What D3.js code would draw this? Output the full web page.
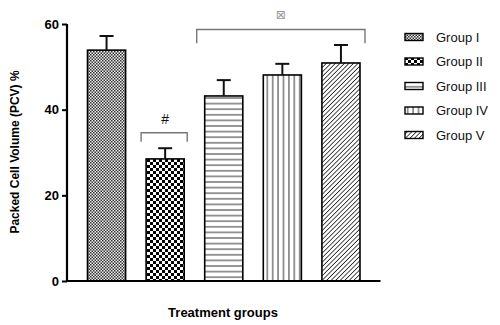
<!DOCTYPE html>
<html><head><meta charset="utf-8">
<script src="https://cdn.jsdelivr.net/npm/d3@7"></script>
<style>body{margin:0;background:#fff}svg{display:block;font-family:"Liberation Sans",Arial,sans-serif}</style>
</head><body><svg id="c" width="500" height="325"></svg>
<script>
const groups = ["Group I","Group II","Group III","Group IV","Group V"];
const means = [53.9, 28.5, 43.2, 48.1, 50.9];
const sems = [3.3, 2.5, 3.7, 2.6, 4.2];
const yTicks = [0, 20, 40, 60];
const patterns = ["pFine","pChecker","pHoriz","pVert","pDiag"];

const svg = d3.select("#c");
const x = d3.scaleBand().domain(groups).range([67, 380.5]).paddingInner(0.35).paddingOuter(0.35);
const y = d3.scaleLinear().domain([0, 60]).range([281, 24]);

const defs = svg.append("defs");
// fine checker
let p = defs.append("pattern").attr("id","pFine").attr("patternUnits","userSpaceOnUse").attr("width",3).attr("height",3);
p.append("rect").attr("width",3).attr("height",3).attr("fill","#eee");
p.append("rect").attr("width",1.5).attr("height",1.5).attr("fill","#333");
p.append("rect").attr("x",1.5).attr("y",1.5).attr("width",1.5).attr("height",1.5).attr("fill","#333");
// coarse checker
p = defs.append("pattern").attr("id","pChecker").attr("patternUnits","userSpaceOnUse").attr("width",6).attr("height",6);
p.append("rect").attr("width",6).attr("height",6).attr("fill","#fff");
p.append("rect").attr("width",3).attr("height",3).attr("fill","#000");
p.append("rect").attr("x",3).attr("y",3).attr("width",3).attr("height",3).attr("fill","#000");
// horizontal
p = defs.append("pattern").attr("id","pHoriz").attr("patternUnits","userSpaceOnUse").attr("width",6).attr("height",5.6);
p.append("rect").attr("width",6).attr("height",5.6).attr("fill","#fff");
p.append("line").attr("x1",0).attr("x2",6).attr("y1",2.8).attr("y2",2.8).attr("stroke","#555").attr("stroke-width",1.2);
// vertical
p = defs.append("pattern").attr("id","pVert").attr("patternUnits","userSpaceOnUse").attr("width",5.4).attr("height",6);
p.append("rect").attr("width",5.4).attr("height",6).attr("fill","#fff");
p.append("line").attr("y1",0).attr("y2",6).attr("x1",2.7).attr("x2",2.7).attr("stroke","#555").attr("stroke-width",1.2);
// diagonal
p = defs.append("pattern").attr("id","pDiag").attr("patternUnits","userSpaceOnUse").attr("width",3.2).attr("height",3.2).attr("patternTransform","rotate(45)");
p.append("rect").attr("width",3.2).attr("height",3.2).attr("fill","#fff");
p.append("line").attr("x1",0).attr("x2",0).attr("y1",0).attr("y2",3.2).attr("stroke","#222").attr("stroke-width",1.6);

// bars
svg.selectAll("rect.bar").data(groups).join("rect").attr("class","bar")
  .attr("x", d => x(d)).attr("width", x.bandwidth())
  .attr("y", (d,i) => y(means[i])).attr("height", (d,i) => y(0) - y(means[i]))
  .attr("fill", (d,i) => `url(#${patterns[i]})`).attr("stroke","#000").attr("stroke-width",1.6);

// error bars
const eb = svg.append("g").attr("stroke","#111").attr("stroke-width",2);
groups.forEach((g,i) => {
  const cx = x(g) + x.bandwidth()/2;
  eb.append("line").attr("x1",cx).attr("x2",cx).attr("y1",y(means[i])).attr("y2",y(means[i]+sems[i]));
  eb.append("line").attr("x1",cx-7).attr("x2",cx+7).attr("y1",y(means[i]+sems[i])).attr("y2",y(means[i]+sems[i]));
});

// axes
const yAxis = svg.append("g").attr("transform","translate(67,0)")
  .call(d3.axisLeft(y).tickValues(yTicks).tickSize(5).tickPadding(3));
yAxis.select(".domain").attr("stroke","#000").attr("stroke-width",2.2).attr("d","M0,24V281");
yAxis.selectAll(".tick line").attr("stroke","#000").attr("stroke-width",2);
yAxis.selectAll(".tick text").attr("font-size",13).attr("font-weight","bold").attr("fill","#000")
  .attr("font-family","Liberation Sans, Arial, sans-serif");
svg.append("line").attr("x1",66).attr("x2",380.5).attr("y1",y(0)).attr("y2",y(0)).attr("stroke","#000").attr("stroke-width",2.2);

// brackets
const br = svg.append("g").attr("fill","none").attr("stroke","#777").attr("stroke-width",1.4);
const x2 = x("Group II");
br.append("path").attr("d",`M${x2-5},${y(32.5)}V${y(34.6)}H${x2+x.bandwidth()+3}V${y(32.5)}`);
svg.append("text").attr("x",x2+x.bandwidth()/2).attr("y",y(36.6)).attr("text-anchor","middle")
  .attr("font-size",14).attr("fill","#111").text("#");
const x3 = x("Group III"), x5 = x("Group V")+x.bandwidth();
br.append("path").attr("d",`M${x3-8},${y(55.5)}V${y(58.7)}H${x5+5}V${y(55.5)}`);
svg.append("text").attr("x",(x3-8+x5+5)/2).attr("y",y(61.2)).attr("text-anchor","middle")
  .attr("font-size",12).attr("fill","#999").attr("font-family","DejaVu Sans").attr("transform","").text("⊠");

// axis titles
svg.append("text").attr("transform","translate(19,152) rotate(-90)").attr("text-anchor","middle")
  .attr("font-size",12).attr("font-weight","bold").text("Packed Cell Volume (PCV) %");
svg.append("text").attr("x",223).attr("y",317).attr("text-anchor","middle")
  .attr("font-size",13).attr("font-weight","bold").text("Treatment groups");

// legend
const lg = svg.append("g");
groups.forEach((g,i) => {
  const yy = 37 + i*24.5;
  lg.append("rect").attr("x",405).attr("y",yy-3.5).attr("width",18).attr("height",7)
    .attr("fill",`url(#${patterns[i]})`).attr("stroke","#000").attr("stroke-width",1.4);
  lg.append("text").attr("x",436).attr("y",yy+4.5).attr("font-size",13).attr("fill","#111").text(g);
});
</script></body></html>
